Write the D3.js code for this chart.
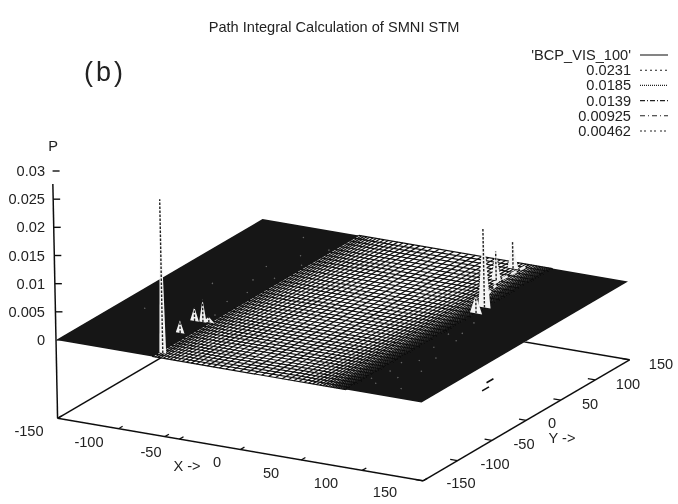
<!DOCTYPE html>
<html>
<head>
<meta charset="utf-8">
<script src="https://cdn.jsdelivr.net/npm/d3@7"></script>
<style>
	html, body { margin: 0; padding: 0; background: #fff; }
	text { font-family: "Liberation Sans", Arial, sans-serif; fill: #222; }
</style>
</head>
<body>
<div id="chart"></div>
<script>
// surface grid: wide cells in the middle, tight toward the edges
var xNodes = [-71,-68.8,-66.6,-64.3,-61.9,-59.3,-56.5,-53.5,-50.2,-46.7,-43,-39,-34.8,-30.4,-25.8,-21,-15.9,-10.6,-5,0.8,6.8,12.8,18.8,24.6,30.2,35.6,40.6,45.2,49.5,53.5,57.2,60.6,63.7,66.5,69,71.3,73.4,75.3,77,78.6,80.1,81.5,82.8,84,85.1,86.1,87,88];
var yNodes = [-150,-144.5,-139,-133.4,-127.8,-122.1,-116.4,-110.6,-104.8,-98.9,-93,-87,-81,-74.9,-68.7,-62.5,-56.2,-49.9,-43.5,-37,-30.5,-23.9,-17.3,-10.6,-3.9,2.9,9.7,16.6,23.5,30.5,37.5,44.6,51.7,58.8,65.9,73,80.1,87.2,94.3,101.4,108.5,115.6,122.7,129.8,136.6,143.4,150];

// the parts of the surface where the mesh closes up solid
var darkFrom = [-150, 88];
var darkTo = [-71, 150];

// peaks of the probability surface
var peakX = [-68, -78.6, -82.6, -76, -72, 88, 87, 65, 63];
var peakY = [-140, -96, -68, -67.5, -66, 39, 53, 109, 137];
var peakZ = [0.0273, 0.0023, 0.0025, 0.0041, 0.001, 0.0032, 0.014, 0.0051, 0.0048];
var peakW = [2.8, 3.6, 3.6, 3, 4.5, 5, 5, 4, 4.5];

// white streaks along the foot of the right hand peaks
var streakFromX = [66.7, 78];
var streakFromY = [102, 62];
var streakToX = [68.7, 70];
var streakToY = [145, 100];

// pale specks left in the solid parts
var speckX = [-96,-90,-86,-83,-80,-78,-76,-75,-74,-88,-104,-112,-128,92,94,96,98,100,103,105,108,111,116,122,93,97,101,90];
var speckY = [60,30,92,-20,4,40,-50,74,112,-80,128,10,-60,-120,-80,-100,-40,-128,-70,-20,-110,-60,-90,-130,-10,20,-4,40];

// two stray marks under the surface
var strayX = [84, 90];
var strayY = [64, 47];

// axes
var xTicks = [-150, -100, -50, 0, 50, 100, 150];
var xExtraTicks = [-62];
var yTicks = [-150, -100, -50, 0, 50, 100, 150];
var zTicks = [0, 0.005, 0.01, 0.015, 0.02, 0.025, 0.03];
var zTickLabels = ['0', '0.005', '0.01', '0.015', '0.02', '0.025', '0.03'];

var xTickLabelPos = [[29,431],[89,442],[151,452],[217,462],[271,473],[326,483],[385,492]];
var yTickLabelPos = [[461,483],[495,464],[524,444],[552,423],[590,404],[628,384],[661,364]];

var legendLabels = ["'BCP_VIS_100'", '0.0231', '0.0185', '0.0139', '0.00925', '0.00462'];
var legendDashes = ['none', '2,3', '1,1', '5,2,1,2', '5,3,1,3', '2,2,2,4'];

function drawGraphic(){

	var width = 678, height = 504, fontSize = 14.6;

	// gnuplot style oblique view: every data axis adds its own screen offset
	var xToSx = d3.scaleLinear().domain([-150,150]).range([0,365.5]),
		xToSy = d3.scaleLinear().domain([-150,150]).range([0,62.5]),
		yToSx = d3.scaleLinear().domain([-150,150]).range([0,206.5]),
		yToSy = d3.scaleLinear().domain([-150,150]).range([0,-121]),
		zToSy = d3.scaleLinear().domain([0,0.03]).range([0,-169]),
		zToSx = d3.scaleLinear().domain([0,0.03]).range([0,-3.4]);

	var zFloor = -0.0139, zTop = 0.0277;

	function project(x, y, z){
		return [56 + xToSx(x) + yToSx(y) + zToSx(z), 340 + xToSy(x) + yToSy(y) + zToSy(z)];
	}

	var svg = d3.select('#chart').append('svg')
		.attr('width', width)
		.attr('height', height);

	var defs = svg.append('defs');
	defs.append('filter').attr('id','scan')
		.attr('x','-2%').attr('y','-2%').attr('width','104%').attr('height','104%')
		.append('feGaussianBlur').attr('stdDeviation',0.45);

	var root = svg.append('g').attr('filter','url(#scan)');

	var line = d3.line();

	function seg(g, a, b, w){
		return g.append('path')
			.attr('d', line([a, b]))
			.attr('fill','none')
			.attr('stroke','#111')
			.attr('stroke-width', w || 1.3);
	}

	// box on the floor, it goes behind the surface
	var box = root.append('g');
	seg(box, project(-150,-150,zFloor), project(150,-150,zFloor), 1.5);
	seg(box, project(150,-150,zFloor), project(150,150,zFloor), 1.5);
	seg(box, project(150,150,zFloor), project(-150,150,zFloor), 1.5);
	seg(box, project(-150,150,zFloor), project(-150,-150,zFloor), 1.5);
	seg(box, project(-150,-150,zFloor), project(-150,-150,zTop), 1.5);

	xTicks.concat(xExtraTicks).forEach(function(d){
		seg(box, project(d,-150,zFloor), project(d,-144,zFloor), 1.3);
	});
	yTicks.forEach(function(d){
		seg(box, project(150,d,zFloor), project(144,d,zFloor), 1.3);
	});
	zTicks.forEach(function(d){
		var p = project(-150,-150,d);
		seg(box, p, [p[0] + 7, p[1]], 1.4);
	});

	strayX.forEach(function(d,i){
		seg(box, project(d,strayY[i]-5,zFloor), project(d,strayY[i]+5,zFloor), 1.6);
	});

	// surface
	var surface = root.append('g');

	surface.append('path')
		.attr('d', line([project(-150,-150,0), project(150,-150,0), project(150,150,0), project(-150,150,0)]) + 'Z')
		.attr('fill','#fff');

	surface.selectAll('.band')
		.data(darkFrom).enter().append('path')
		.attr('class','band')
		.attr('d', function(d,i){
			return line([project(d,-150,0), project(darkTo[i],-150,0), project(darkTo[i],150,0), project(d,150,0)]) + 'Z';
		})
		.attr('fill','#141414');

	surface.selectAll('.col')
		.data(xNodes).enter().append('path')
		.attr('class','col')
		.attr('d', function(d){ return line([project(d,-150,0), project(d,150,0)]); })
		.attr('fill','none').attr('stroke','#111').attr('stroke-width',1.2);

	surface.selectAll('.row')
		.data(yNodes).enter().append('path')
		.attr('class','row')
		.attr('d', function(d){ return line([project(-71,d,0), project(88,d,0)]); })
		.attr('fill','none').attr('stroke','#111').attr('stroke-width',1.2);

	surface.selectAll('.speck')
		.data(speckX).enter().append('circle')
		.attr('class','speck')
		.attr('cx', function(d,i){ return project(d,speckY[i],0)[0]; })
		.attr('cy', function(d,i){ return project(d,speckY[i],0)[1]; })
		.attr('r',0.8)
		.attr('fill','#666');

	// peaks, painted back to front
	var order = d3.range(peakX.length).sort(function(a,b){ return peakY[b] - peakY[a]; });

	root.selectAll('.streak')
		.data(streakFromX).enter().append('path')
		.attr('class','streak')
		.attr('d', function(d,i){
			return line([project(d,streakFromY[i],0), project(streakToX[i],streakToY[i],0)]);
		})
		.attr('fill','none').attr('stroke','#eee').attr('stroke-width',2.6)
		.attr('stroke-dasharray','6,4');

	var peaks = root.selectAll('.peak')
		.data(order).enter().append('g')
		.attr('class','peak');

	peaks.append('path')
		.attr('d', function(i){
			var a = project(peakX[i] - peakW[i], peakY[i], 0),
				b = project(peakX[i] + peakW[i], peakY[i], 0),
				t = project(peakX[i], peakY[i], peakZ[i]);
			return line([a, t, b]) + 'Z';
		})
		.attr('fill','#f4f4f4');

	peaks.append('path')
		.attr('d', function(i){
			return line([project(peakX[i],peakY[i],0), project(peakX[i],peakY[i],peakZ[i])]);
		})
		.attr('fill','none').attr('stroke','#222').attr('stroke-width',1.4)
		.attr('stroke-dasharray','2.5,1.5');

	// title and free text
	var text = root.append('g');

	text.append('text')
		.attr('x',334).attr('y',32).attr('text-anchor','middle')
		.attr('font-size',fontSize)
		.text('Path Integral Calculation of SMNI STM');

	text.append('text')
		.attr('x',105).attr('y',81).attr('text-anchor','middle')
		.attr('font-size',27).attr('letter-spacing',3)
		.attr('fill','#333')
		.text('(b)');

	text.append('text')
		.attr('x',53).attr('y',151).attr('text-anchor','middle')
		.attr('font-size',fontSize)
		.text('P');

	text.append('text')
		.attr('x',187).attr('y',471).attr('text-anchor','middle')
		.attr('font-size',fontSize)
		.text('X ->');

	text.append('text')
		.attr('x',562).attr('y',443).attr('text-anchor','middle')
		.attr('font-size',fontSize)
		.text('Y ->');

	zTicks.forEach(function(d,i){
		text.append('text')
			.attr('x',45)
			.attr('y',project(-150,-150,d)[1] + 5)
			.attr('text-anchor','end')
			.attr('font-size',fontSize)
			.text(zTickLabels[i]);
	});

	xTicks.forEach(function(d,i){
		text.append('text')
			.attr('x',xTickLabelPos[i][0]).attr('y',xTickLabelPos[i][1] + 5)
			.attr('text-anchor','middle').attr('font-size',fontSize)
			.text(d);
	});

	yTicks.forEach(function(d,i){
		text.append('text')
			.attr('x',yTickLabelPos[i][0]).attr('y',yTickLabelPos[i][1] + 5)
			.attr('text-anchor','middle').attr('font-size',fontSize)
			.text(d);
	});

	// legend
	var legendY = d3.scalePoint().domain(legendLabels).range([55,131]);

	var legend = root.selectAll('.legend')
		.data(legendLabels).enter().append('g')
		.attr('class','legend')
		.attr('transform',function(d){ return 'translate(0,' + legendY(d) + ')'; });

	legend.append('text')
		.attr('x',631).attr('y',5).attr('text-anchor','end').attr('font-size',fontSize)
		.text(function(d){ return d; });

	legend.append('line')
		.attr('x1',640).attr('x2',668)
		.attr('stroke','#222').attr('stroke-width',1.1)
		.attr('stroke-dasharray',function(d,i){ return legendDashes[i]; });
}

drawGraphic();
</script>
</body>
</html>
